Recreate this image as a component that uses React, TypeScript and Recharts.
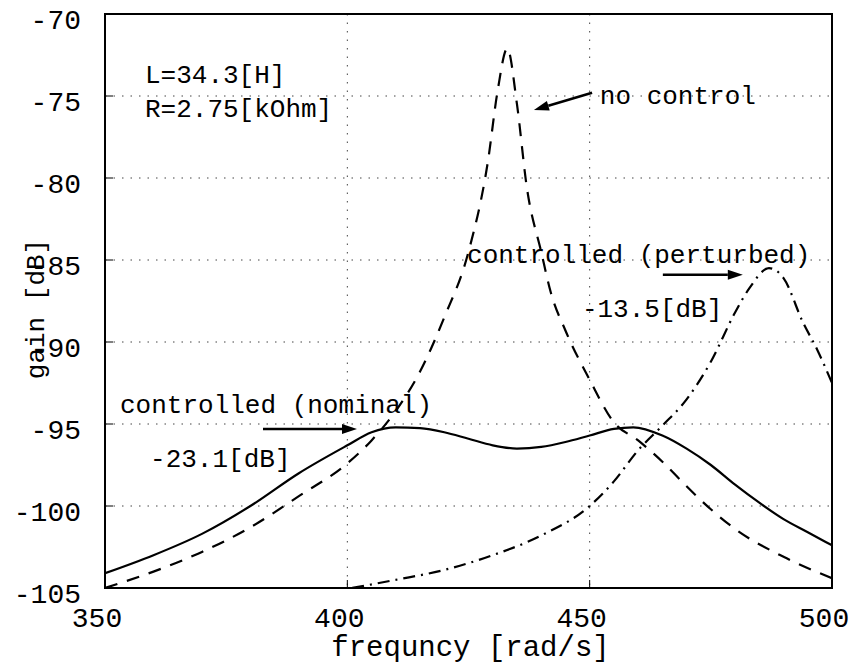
import React from "react";
import {
  CartesianGrid, Label, Line, LineChart, ReferenceArea, ReferenceDot, ReferenceLine, XAxis, YAxis,
} from "recharts";

// frequency [rad/s] and gain [dB] for each response
const noControlFreq = [350, 360, 370, 380, 390, 400, 405, 410, 415, 420, 425, 429, 431, 433, 435, 437, 440, 442, 445, 450, 455, 460, 465, 470, 475, 480, 490, 500];
const noControlGain = [-105.0, -104.0, -102.8, -101.3, -99.4, -97.4, -96.0, -94.2, -91.8, -88.5, -84.5, -79.0, -74.7, -72.1, -75.5, -80.5, -84.5, -87.0, -89.3, -92.3, -94.9, -96.0, -97.3, -98.8, -100.2, -101.4, -103.1, -104.4];

const nominalFreq = [350, 360, 370, 380, 390, 400, 405, 410, 415, 420, 425, 430, 435, 440, 445, 450, 455, 459, 465, 470, 475, 480, 485, 490, 495, 500];
const nominalGain = [-104.1, -103.0, -101.7, -100.0, -98.0, -96.3, -95.5, -95.2, -95.25, -95.5, -95.9, -96.3, -96.5, -96.4, -96.1, -95.7, -95.3, -95.2, -95.7, -96.5, -97.5, -98.7, -99.8, -100.8, -101.6, -102.4];

const perturbedFreq = [401, 410, 420, 430, 440, 450, 455, 460, 465, 470, 475, 480, 483, 487, 490, 494, 497, 500];
const perturbedGain = [-105.0, -104.5, -103.9, -103.0, -101.8, -100.0, -98.5, -96.6, -95.1, -93.5, -91.2, -88.2, -86.7, -85.5, -86.1, -88.8, -90.5, -92.5];

const xTicks = [350, 400, 450, 500];
const yTicks = [-105, -100, -95, -90, -85, -80, -75, -70];

const toPoints = (f: number[], g: number[]) => f.map((x, i) => ({ f: x, gain: g[i] }));
const noControl = toPoints(noControlFreq, noControlGain);
const nominal = toPoints(nominalFreq, nominalGain);
const perturbed = toPoints(perturbedFreq, perturbedGain);

const FONT = "'Liberation Mono', 'DejaVu Sans Mono', monospace";
const FS = 26;
const TICK_FS = 28;
const TICK_LEN = 8;

// annotation text anchored at a data position (left/baseline)
const note = (f: number, g: number, text: string) => (
  <ReferenceDot
    x={f} y={g} r={0} ifOverflow="visible"
    shape={(p: any) => (
      <text x={p.cx} y={p.cy} fontFamily={FONT} fontSize={FS} fill="#000">{text}</text>
    )}
  />
);

const arrowShape = (p: any) => {
  const { x1, y1, x2, y2 } = p;
  const a = Math.atan2(y2 - y1, x2 - x1);
  const len = 15, w = 5;
  const bx = x2 - len * Math.cos(a), by = y2 - len * Math.sin(a);
  const px = -Math.sin(a) * w, py = Math.cos(a) * w;
  return (
    <g>
      <line x1={x1} y1={y1} x2={bx} y2={by} stroke="#000" strokeWidth={2.5} />
      <polygon points={`${x2},${y2} ${bx + px},${by + py} ${bx - px},${by - py}`} fill="#000" />
    </g>
  );
};

const arrow = (f1: number, g1: number, f2: number, g2: number) => (
  <ReferenceLine
    segment={[{ x: f1, y: g1 }, { x: f2, y: g2 }]}
    ifOverflow="visible"
    shape={arrowShape}
  />
);

// bottom axis: inward tick plus label
const XTick = (p: any) => (
  <g>
    <line x1={p.x} y1={p.y} x2={p.x} y2={p.y - TICK_LEN} stroke="#000" />
    <text x={p.x - 8} y={p.y + 39} textAnchor="middle" fontFamily={FONT} fontSize={TICK_FS} fill="#000">
      {p.payload.value}
    </text>
  </g>
);

// left axis: inward tick plus label
const YTick = (p: any) => (
  <g>
    <line x1={p.x} y1={p.y} x2={p.x + TICK_LEN} y2={p.y} stroke="#000" />
    <text x={p.x - 24} y={p.y + 15} textAnchor="end" fontFamily={FONT} fontSize={TICK_FS} fill="#000">
      {p.payload.value}
    </text>
  </g>
);

// top / right axes only carry the inward tick marks
const TopTick = (p: any) => <line x1={p.x} y1={p.y} x2={p.x} y2={p.y + TICK_LEN} stroke="#000" />;
const RightTick = (p: any) => <line x1={p.x} y1={p.y} x2={p.x - TICK_LEN} y2={p.y} stroke="#000" />;

export default function App() {
  return (
    <div style={{ position: "absolute", left: 0, top: 0 }}>
      <LineChart width={859} height={666} margin={{ top: 14, right: 27, bottom: 0, left: 0 }}>
        <CartesianGrid stroke="#444" strokeDasharray="1.5 7" />
        <XAxis
          dataKey="f" type="number" domain={[350, 500]} ticks={xTicks} allowDataOverflow
          height={78} axisLine={false} tickLine={false} tickSize={0} tickMargin={0} tick={<XTick />}
        >
          <Label
            content={(p: any) => (
              <text x={p.viewBox.x + p.viewBox.width / 2 + 2} y={p.viewBox.y + 68} textAnchor="middle"
                fontFamily={FONT} fontSize={29} fill="#000">frequncy [rad/s]</text>
            )}
          />
        </XAxis>
        <XAxis
          xAxisId="top" orientation="top" type="number" domain={[350, 500]} ticks={xTicks}
          height={0} axisLine={false} tickLine={false} tickSize={0} tickMargin={0} tick={<TopTick />}
        />
        <YAxis
          type="number" domain={[-105, -70]} ticks={yTicks} allowDataOverflow
          width={105} axisLine={false} tickLine={false} tickSize={0} tickMargin={0} tick={<YTick />}
        >
          <Label
            content={(p: any) => {
              const cx = 44, cy = p.viewBox.y + p.viewBox.height / 2 + 8;
              return (
                <text x={cx} y={cy} transform={`rotate(-90 ${cx} ${cy})`} textAnchor="middle"
                  fontFamily={FONT} fontSize={FS} fill="#000">gain [dB]</text>
              );
            }}
          />
        </YAxis>
        <YAxis
          yAxisId="right" orientation="right" type="number" domain={[-105, -70]} ticks={yTicks}
          width={0} axisLine={false} tickLine={false} tickSize={0} tickMargin={0} tick={<RightTick />}
        />
        <ReferenceArea x1={350} x2={500} y1={-105} y2={-70} fill="none" stroke="#000" strokeWidth={2} ifOverflow="visible" />

        <Line data={noControl} dataKey="gain" type="monotone" stroke="#000" strokeWidth={2.2}
          strokeDasharray="13 10" dot={false} isAnimationActive={false} />
        <Line data={nominal} dataKey="gain" type="monotone" stroke="#000" strokeWidth={2.2}
          dot={false} isAnimationActive={false} />
        <Line data={perturbed} dataKey="gain" type="monotone" stroke="#000" strokeWidth={2.2}
          strokeDasharray="12 6 2 6" dot={false} isAnimationActive={false} />

        {note(358.25, -74.2, "L=34.3[H]")}
        {note(358.25, -76.3, "R=2.75[kOhm]")}
        {note(452.1, -75.5, "no control")}
        {note(424.7, -85.2, "controlled (perturbed)")}
        {note(448.4, -88.5, "-13.5[dB]")}
        {note(353.1, -94.3, "controlled (nominal)")}
        {note(359.3, -97.6, "-23.1[dB]")}

        {arrow(450.5, -74.8, 438.5, -75.85)}
        {arrow(465.1, -85.9, 481.6, -85.9)}
        {arrow(382.6, -95.3, 402.0, -95.3)}
      </LineChart>
    </div>
  );
}
